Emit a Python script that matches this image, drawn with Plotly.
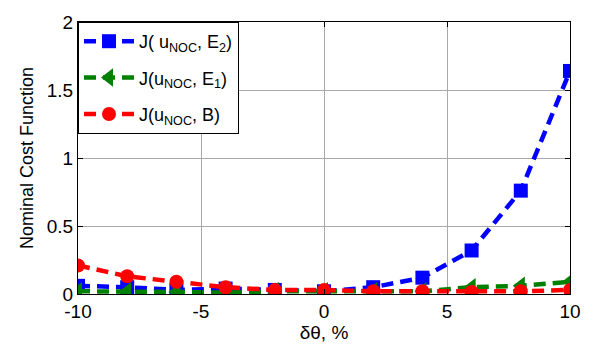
import plotly.graph_objects as go

x = [-10, -8, -6, -4, -2, 0, 2, 4, 6, 8, 10]
j_e2 = [0.06, 0.05, 0.03, 0.04, 0.03, 0.02, 0.05, 0.12, 0.32, 0.76, 1.64]
j_e1 = [0.02, 0.02, 0.015, 0.01, 0.02, 0.02, 0.02, 0.02, 0.05, 0.06, 0.09]
j_b = [0.21, 0.13, 0.09, 0.05, 0.03, 0.03, 0.02, 0.02, 0.015, 0.02, 0.03]

x_ticks = [-10, -5, 0, 5, 10]
x_tick_labels = ["-10", "-5", "0", "5", "10"]
y_ticks = [0, 0.5, 1, 1.5, 2]
y_tick_labels = ["0", "0.5", "1", "1.5", "2"]

names = ["J( u<sub>NOC</sub>, E<sub>2</sub>)",
         "J(u<sub>NOC</sub>, E<sub>1</sub>)",
         "J(u<sub>NOC</sub>, B)"]

DASH = "12px,7px"
fig = go.Figure()
fig.add_trace(go.Scatter(x=x, y=j_e2, name=names[0], mode="lines+markers", legendgroup="a",
                         line=dict(color="#0000ff", width=4.5, dash=DASH),
                         marker=dict(symbol="square", size=14, color="#0000ff")))
fig.add_trace(go.Scatter(x=x, y=j_e1, name=names[1], mode="lines+markers", legendgroup="b",
                         line=dict(color="#008000", width=4.5, dash=DASH),
                         marker=dict(symbol="triangle-left", size=16, color="#008000")))
fig.add_trace(go.Scatter(x=x, y=j_b, name=names[2], mode="lines+markers", legendgroup="c",
                         line=dict(color="#ff0000", width=4.5, dash=DASH),
                         marker=dict(symbol="circle", size=14, color="#ff0000")))

FONT = "Arial, Liberation Sans, sans-serif"
axis_common = dict(showline=True, linecolor="black", linewidth=1, mirror="ticks",
                   ticks="inside", ticklen=5, tickcolor="black",
                   showgrid=True, gridcolor="#a8a8a8", gridwidth=1,
                   zeroline=False,
                   tickfont=dict(family=FONT, size=19, color="black"))

fig.update_layout(
    width=593, height=351,
    margin=dict(l=78, r=20, t=13, b=55),
    plot_bgcolor="white", paper_bgcolor="white",
    font=dict(family=FONT, color="black"),
    xaxis=dict(range=[-10, 10], tickvals=x_ticks, ticktext=x_tick_labels,
               title=dict(text="δθ, %", font=dict(size=19), standoff=4), **axis_common),
    yaxis=dict(range=[0, 2], tickvals=y_ticks, ticktext=y_tick_labels,
               title=dict(text="Nominal Cost Function", font=dict(size=18), standoff=8),
               **axis_common),
    legend=dict(x=0, y=1, xanchor="left", yanchor="top",
                bgcolor="white", bordercolor="black", borderwidth=1,
                font=dict(size=18, family=FONT),
                itemwidth=50, tracegroupgap=10),
    showlegend=True,
)

fig.write_html("out.html")
